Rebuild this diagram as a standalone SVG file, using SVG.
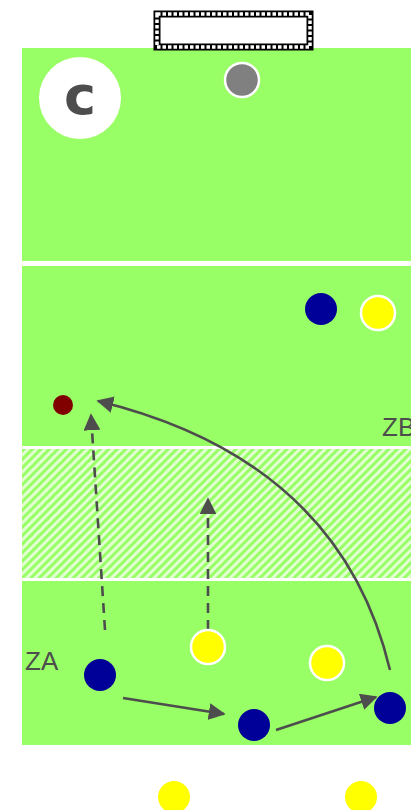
<svg xmlns="http://www.w3.org/2000/svg" width="411" height="810" viewBox="0 0 411 810">
<style>
.txt{font-family:"Liberation Sans",Arial,sans-serif;fill:#4d4d4d}
.conn{stroke:#4d4d4d;stroke-width:2.6;fill:none}
.dash{stroke-dasharray:10 7}
.blue{fill:#000099}
.yel{fill:#ffff00;stroke:#fff;stroke-width:2.5}
</style>
<defs>
<pattern id="hatch" width="6" height="6" patternUnits="userSpaceOnUse" patternTransform="rotate(45)">
<rect width="6" height="6" fill="#99ff66"/>
<rect x="0" width="3" height="6" fill="#ffffff" fill-opacity="0.7"/>
</pattern>
<marker id="ah" viewBox="0 0 10 10" refX="9" refY="5" markerWidth="6.5" markerHeight="6.5" markerUnits="strokeWidth" orient="auto">
<path d="M0,0 L10,5 L0,10 z" fill="#4d4d4d"/>
</marker>
</defs>
<rect width="411" height="810" fill="#fff"/>
<g id="field">
<rect x="22" y="48" width="389" height="213" fill="#99ff66"/>
<rect x="22" y="266" width="389" height="180" fill="#99ff66"/>
<rect x="22" y="449" width="389" height="129" fill="url(#hatch)"/>
<rect x="22" y="581" width="389" height="164" fill="#99ff66"/>
</g>
<g id="goal">
<rect x="157" y="14" width="153" height="33" fill="#fff" stroke="#000" stroke-width="7"/>
<rect x="157" y="14" width="153" height="33" fill="none" stroke="#fff" stroke-width="3.5" stroke-dasharray="3.5 2"/>
</g>
<g id="label-c">
<circle cx="80" cy="98" r="41" fill="#fff"/>
<text x="80" y="114" text-anchor="middle" class="txt" font-size="54" font-weight="bold" style="font-family:'DejaVu Sans',sans-serif">c</text>
</g>
<g id="ball"><circle cx="242" cy="80" r="17" fill="#808080" stroke="#fff" stroke-width="2.5"/></g>
<g id="target"><circle cx="63" cy="405" r="10" fill="#800000"/></g>
<g id="zb"><text x="382" y="436" class="txt" font-size="26">ZB</text></g>
<g id="za"><text x="25" y="670" class="txt" font-size="26">ZA</text></g>
<g id="connectors">
<path class="conn dash" d="M105,630 L91,415" marker-end="url(#ah)"/>
<path class="conn dash" d="M208,630 L208,499" marker-end="url(#ah)"/>
<path class="conn" d="M390,670 Q340,460 98,401" marker-end="url(#ah)"/>
<path class="conn" d="M123,698 L224,714" marker-end="url(#ah)"/>
<path class="conn" d="M276,730 L376,697" marker-end="url(#ah)"/>
</g>
<g id="players">
<circle id="b1" class="blue" cx="321" cy="309" r="16"/>
<circle id="y1" class="yel" cx="378" cy="313" r="17"/>
<circle id="y2" class="yel" cx="208" cy="647" r="17"/>
<circle id="y3" class="yel" cx="327" cy="663" r="17"/>
<circle id="b2" class="blue" cx="100" cy="675" r="16"/>
<circle id="b3" class="blue" cx="254" cy="725" r="16"/>
<circle id="b4" class="blue" cx="390" cy="708" r="16"/>
<circle id="y4" cx="174" cy="797" r="16" fill="#ffff00"/>
<circle id="y5" cx="361" cy="797" r="16" fill="#ffff00"/>
</g>
</svg>
